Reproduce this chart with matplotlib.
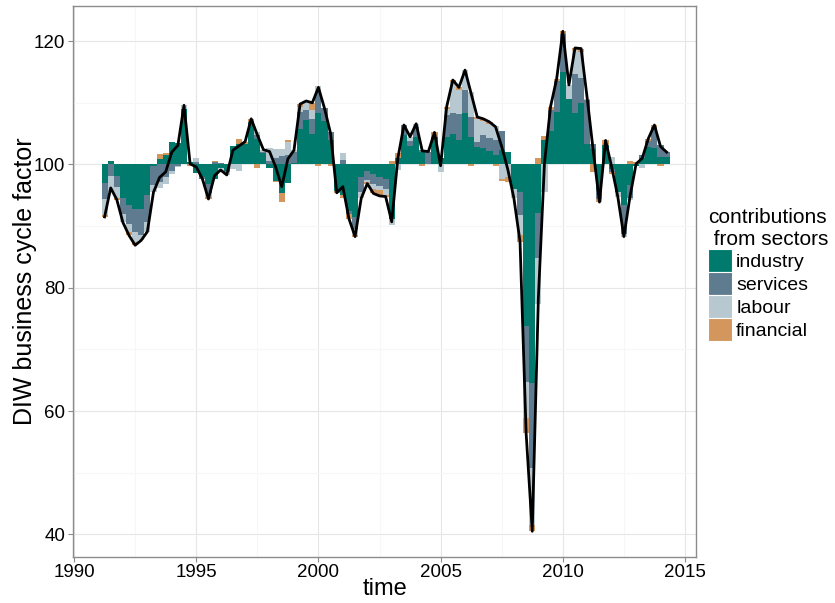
import numpy as np
import matplotlib.pyplot as plt
from matplotlib.patches import Patch

plt.rcParams['font.family'] = ['Liberation Sans', 'DejaVu Sans']

# quarterly observations, 1991 Q2 ... 2014 Q2
time = 1991.25 + 0.25 * np.arange(93)

# contributions (points deviation from 100)
industry = [-3.0, 0.6, -1.8, -5.5, -6.6, -7.2, -7.3, -5.0, -0.3, 0.9,
            1.5, 3.6, 3.5, 9.0, 0.4, -1.4, -2.0, -3.1, -2.4, -0.6,
            -1.0, 3.0, 3.3, 3.3, 6.9, 4.2, 1.8, -0.5, -2.6, -4.7,
            -3.0, 0.3, 5.8, 7.2, 5.0, 8.3, 7.0, 4.0, -4.3, -4.9,
            -7.5, -8.5, -2.0, -1.0, -1.5, -2.0, -2.3, -8.9, 1.0, 4.8,
            3.0, 4.5, 2.1, 0.0, 4.4, 1.0, 4.5, 4.9, 3.9, 8.3,
            4.5, 2.9, 2.6, 2.2, 1.5, 2.3, 2.0, -3.9, -4.4, -26.2,
            -35.4, -7.9, 3.9, 5.5, 8.5, 15.0, 10.7, 8.3, 9.9, 3.4,
            2.5, -4.2, 3.1, -0.8, -4.5, -6.6, -3.4, -0.3, 1.0, 2.8,
            2.6, 1.2, 1.2]
services = [-2.6, -1.8, -1.8, -2.6, -3.0, -3.8, -4.2, -4.3, -3.0, -2.9,
            -2.0, -1.1, -0.3, 0.0, 0.0, 0.4, -0.3, -1.6, 0.4, 0.2,
            -0.3, 0.0, 0.0, 0.0, 0.0, 0.5, 0.3, 0.5, 1.1, 1.4,
            1.5, 1.7, 2.7, 1.7, 2.4, 3.4, 2.1, 1.2, 0.0, 0.8,
            -0.6, -2.0, -2.5, -1.5, -1.6, -1.5, -1.6, 0.0, 0.0, 1.6,
            0.8, 1.6, 0.3, 2.1, 0.0, 0.0, 3.5, 3.5, 4.3, 3.8,
            3.2, 0.8, 2.2, 2.1, 2.5, 3.2, 0.0, 0.0, -3.8, -9.1,
            -13.8, -7.3, 0.0, 3.4, 5.1, 6.2, 0.0, 6.4, 4.1, 7.0,
            0.8, -1.4, 0.0, -0.4, 0.0, -4.6, -2.0, 0.0, 0.5, 1.0,
            3.5, 2.0, 0.8]
labour = [-2.6, -2.6, -1.8, -1.2, -1.3, -1.6, -0.8, -1.6, -1.2, -0.9,
          -1.1, -0.5, -0.1, 0.6, 0.0, 0.6, 0.0, -0.5, 0.0, -0.5,
          -0.4, -0.7, -1.1, 0.0, 0.0, 0.6, 0.2, 2.1, 1.4, 1.1,
          2.2, 0.3, 0.9, 1.4, 1.5, 1.0, 0.0, 0.0, 0.0, 1.0,
          0.0, -0.9, -1.0, -0.3, -0.8, -0.6, -1.1, -0.9, -0.9, 0.0,
          0.7, 0.5, 0.0, 0.0, 0.0, -1.2, 1.0, 5.0, 3.8, 3.2,
          4.0, 3.6, 2.2, 2.2, 2.3, -2.3, -2.0, -1.6, -3.2, -5.8,
          -9.3, -7.5, -4.4, 0.0, 0.0, 0.0, 2.2, 3.8, 4.3, 0.3,
          0.0, 0.0, 0.0, 1.2, -0.7, -0.5, -0.3, 0.0, -0.5, 0.0,
          0.0, 0.0, 0.0]
financial = [-0.3, 0.0, -0.3, -0.1, -0.6, -0.5, 0.0, 0.0, 0.0, 0.8,
             0.4, 0.0, 0.0, 0.0, -0.3, 0.0, 0.0, -0.4, 0.2, 0.0,
             0.0, 0.0, 0.8, 0.4, 0.5, -0.5, 0.1, 0.0, -0.3, -1.4,
             0.2, 0.0, 0.4, 0.0, 1.1, -0.2, 0.0, -0.2, -0.3, -0.5,
             -0.7, -0.3, 0.0, -0.3, -0.8, -1.0, -0.2, 0.5, 0.9, 0.0,
             0.0, 0.0, -0.2, 0.0, 0.8, 0.0, 0.4, 0.3, 0.5, 0.0,
             -0.2, 0.4, 0.4, 0.4, -0.2, -0.3, -0.8, 0.0, -1.1, -2.5,
             -1.0, 1.0, 0.7, 0.5, 0.3, 0.4, 0.0, 0.4, 0.5, 0.0,
             -1.2, -0.5, 0.8, -0.4, 0.0, 0.0, 0.5, 0.4, 0.0, 0.4,
             0.3, -0.3, 0.0]

# DIW business cycle factor (black line)
factor = [91.5, 96.2, 94.3, 90.6, 88.5, 86.9, 87.7, 89.1, 95.5, 97.9,
          98.8, 102.0, 103.1, 109.6, 100.1, 99.6, 97.7, 94.4, 98.2, 99.1,
          98.3, 102.3, 103.0, 103.7, 107.4, 104.8, 102.4, 102.1, 99.6, 96.4,
          100.9, 102.3, 109.8, 110.3, 110.0, 112.5, 109.1, 105.0, 95.4, 96.4,
          91.2, 88.3, 94.5, 96.9, 95.3, 94.9, 94.8, 90.7, 101.0, 106.4,
          104.5, 106.6, 102.2, 102.1, 105.2, 99.8, 109.4, 113.7, 112.5, 115.3,
          111.5, 107.7, 107.4, 106.9, 106.1, 102.9, 99.2, 94.5, 87.5, 56.4,
          40.5, 78.3, 100.2, 109.4, 113.9, 121.6, 112.9, 118.9, 118.8, 110.7,
          102.1, 93.9, 103.9, 99.6, 94.8, 88.3, 94.8, 100.1, 101.0, 104.2,
          106.4, 102.9, 102.0]

sector_names = ['industry', 'services', 'labour', 'financial']
sector_colors = ['#007A6D', '#5E7B8F', '#B8C8D0', '#D3965C']

fig = plt.figure(figsize=(8.35, 6.03), dpi=100)
ax = fig.add_axes([0.0875, 0.077, 0.746, 0.913])

pos = np.full(len(time), 100.0)
neg = np.full(len(time), 100.0)
for vals, col in zip([industry, services, labour, financial], sector_colors):
    v = np.array(vals)
    up = np.where(v > 0, v, 0)
    down = np.where(v < 0, v, 0)
    ax.bar(time, up, 0.25, bottom=pos, color=col, linewidth=0, zorder=2)
    ax.bar(time, down, 0.25, bottom=neg, color=col, linewidth=0, zorder=2)
    pos += up
    neg += down

ax.plot(time, factor, color='black', lw=2, zorder=3)

ax.set_xlim(1989.96, 2015.45)
ax.set_ylim(36.4, 125.7)
ax.set_xticks([1990, 1995, 2000, 2005, 2010, 2015])
ax.set_xticks(np.arange(1992.5, 2015, 5), minor=True)
ax.set_yticks([40, 60, 80, 100, 120])
ax.set_yticks([50, 70, 90, 110], minor=True)
ax.grid(which='major', color='#E6E6E6', lw=0.8, zorder=0)
ax.grid(which='minor', color='#F7F7F7', lw=0.8, zorder=0)
ax.set_axisbelow(True)
for s in ax.spines.values():
    s.set_color('#8C8C8C')
    s.set_linewidth(1.0)
ax.tick_params(which='major', length=3.5, width=0.8, color='#8C8C8C',
               labelsize=13.5, labelcolor='black', pad=2)
ax.tick_params(which='minor', length=0)

ax.set_xlabel('time', fontsize=17, labelpad=-2)
ax.set_ylabel('DIW business cycle factor', fontsize=18, labelpad=-2)

handles = [Patch(facecolor=c, edgecolor='white', lw=0.8) for c in sector_colors]
leg = fig.legend(handles, sector_names, title='contributions\n from sectors',
                 loc='upper left', bbox_to_anchor=(708 / 835, 1 - 208 / 603),
                 frameon=False, fontsize=14, title_fontsize=15,
                 handlelength=1.25, handleheight=1.45, labelspacing=0.0,
                 handletextpad=0.2, borderpad=0, borderaxespad=0,
                 alignment='left')
leg.get_title().set_multialignment('left')

fig.savefig('out.png', dpi=100)
